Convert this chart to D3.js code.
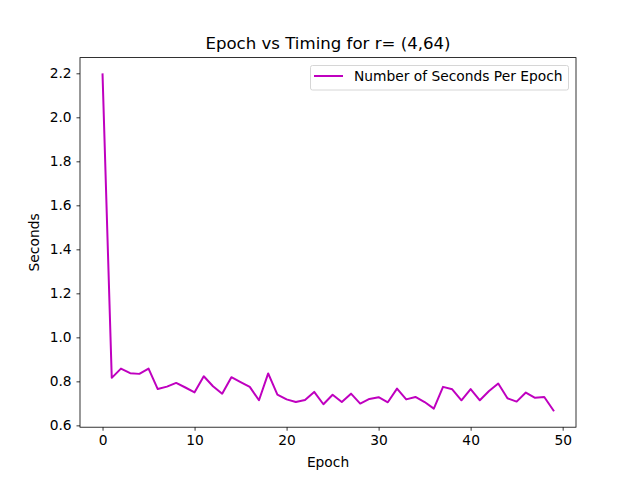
<!DOCTYPE html>
<html>
<head>
<meta charset="utf-8">
<script src="https://cdn.jsdelivr.net/npm/d3@7"></script>
<style>
  body { margin: 0; background: #fff; }
  text { font-family: "DejaVu Sans", sans-serif; fill: #000; }
</style>
</head>
<body>
<div id="corpo"></div>
<script>
var epochs = d3.range(0, 50);
var seconds = [2.195, 0.816, 0.858, 0.837, 0.834, 0.858, 0.765, 0.776, 0.793, 0.772,
               0.750, 0.823, 0.778, 0.744, 0.819, 0.797, 0.775, 0.714, 0.836, 0.740,
               0.718, 0.706, 0.715, 0.752, 0.696, 0.739, 0.706, 0.744, 0.699, 0.720,
               0.728, 0.705, 0.767, 0.718, 0.729, 0.706, 0.676, 0.775, 0.764, 0.714,
               0.765, 0.714, 0.756, 0.790, 0.723, 0.708, 0.749, 0.725, 0.729, 0.668];
var xTicks = [0, 10, 20, 30, 40, 50];
var yTicks = [0.6, 0.8, 1.0, 1.2, 1.4, 1.6, 1.8, 2.0, 2.2];
var title = "Epoch vs Timing for r= (4,64)";
var legendLabel = "Number of Seconds Per Epoch";

var width = 640, height = 480;
var plotLeft = 80, plotRight = 576, plotTop = 57.6, plotBottom = 427.2;
var fontSmall = "13.8px", fontTitle = "16.6px";

var svg = d3.select("#corpo").append("svg")
    .attr("width", width)
    .attr("height", height);

// matplotlib style 5% margins
var xMin = d3.min(epochs), xMax = d3.max(epochs);
var xPad = (xMax - xMin) * 0.05;
var x = d3.scaleLinear().domain([xMin - xPad, xMax + xPad]).range([plotLeft, plotRight]);

var yMin = d3.min(seconds), yMax = d3.max(seconds);
var yPad = (yMax - yMin) * 0.05;
var y = d3.scaleLinear().domain([yMin - yPad, yMax + yPad]).range([plotBottom, plotTop]);

var xAxis = svg.append("g")
    .attr("transform", "translate(0," + plotBottom + ")")
    .call(d3.axisBottom(x).tickValues(xTicks).tickSize(3.5).tickPadding(4.9).tickFormat(d3.format("d")));

var yAxis = svg.append("g")
    .attr("transform", "translate(" + plotLeft + ",0)")
    .call(d3.axisLeft(y).tickValues(yTicks).tickSize(3.5).tickPadding(4.9).tickFormat(d3.format(".1f")));

[xAxis, yAxis].forEach(function(a) {
    a.select(".domain").remove();
    a.selectAll("line").attr("stroke", "#000").attr("stroke-width", 0.8);
    a.selectAll("text")
        .style("font-family", "DejaVu Sans, sans-serif")
        .style("font-size", fontSmall)
        .attr("fill", "#000");
});

var line = d3.line()
    .x(function(d, i) { return x(epochs[i]); })
    .y(function(d) { return y(d); });

svg.append("path")
    .datum(seconds)
    .attr("d", line)
    .attr("fill", "none")
    .attr("stroke", "#bf00bf")
    .attr("stroke-width", 2)
    .attr("stroke-linejoin", "round")
    .attr("stroke-linecap", "square");

// frame
svg.append("rect")
    .attr("x", plotLeft).attr("y", plotTop)
    .attr("width", plotRight - plotLeft).attr("height", plotBottom - plotTop)
    .attr("fill", "none")
    .attr("stroke", "#000")
    .attr("stroke-width", 0.8);

svg.append("text")
    .attr("x", (plotLeft + plotRight) / 2)
    .attr("y", 49)
    .attr("text-anchor", "middle")
    .style("font-size", fontTitle)
    .text(title);

svg.append("text")
    .attr("x", (plotLeft + plotRight) / 2)
    .attr("y", 467)
    .attr("text-anchor", "middle")
    .style("font-size", fontSmall)
    .text("Epoch");

svg.append("text")
    .attr("transform", "translate(39," + (plotTop + plotBottom) / 2 + ") rotate(-90)")
    .attr("text-anchor", "middle")
    .style("font-size", fontSmall)
    .text("Seconds");

// legend
var lg = svg.append("g");
lg.append("rect")
    .attr("x", 310.5).attr("y", 65.5)
    .attr("width", 258).attr("height", 24.5)
    .attr("rx", 2)
    .attr("fill", "#fff")
    .attr("fill-opacity", 0.8)
    .attr("stroke", "#d6d6d6")
    .attr("stroke-width", 1);
lg.append("line")
    .attr("x1", 314).attr("x2", 343)
    .attr("y1", 76).attr("y2", 76)
    .attr("stroke", "#bf00bf")
    .attr("stroke-width", 2);
lg.append("text")
    .attr("x", 354)
    .attr("y", 81)
    .style("font-size", fontSmall)
    .text(legendLabel);
</script>
</body>
</html>
